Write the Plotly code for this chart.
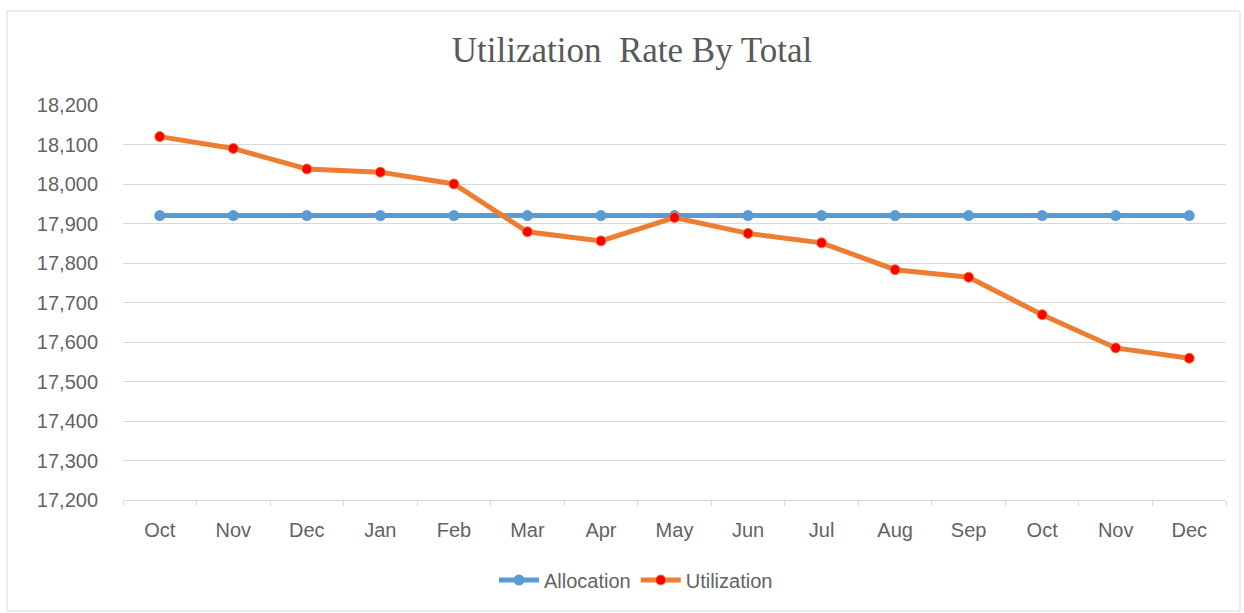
import plotly.graph_objects as go

months = ["Oct", "Nov", "Dec", "Jan", "Feb", "Mar", "Apr", "May", "Jun", "Jul", "Aug", "Sep", "Oct ", "Nov ", "Dec "]
month_labels = ["Oct", "Nov", "Dec", "Jan", "Feb", "Mar", "Apr", "May", "Jun", "Jul", "Aug", "Sep", "Oct", "Nov", "Dec"]
allocation = [17920] * 15
utilization = [18120, 18090, 18038, 18030, 18000, 17879, 17856, 17915, 17875, 17851, 17783, 17764, 17669, 17585, 17559]
y_ticks = list(range(17200, 18201, 100))

W, H = 1244, 613
L, R, T, B = 123, 18, 105, 113
pw, ph = W - L - R, H - T - B

def px_x(p):
    return (p - L) / pw

def px_y(p):
    return (H - B - p) / ph

fig = go.Figure()
fig.add_trace(go.Scatter(
    x=months, y=allocation, name="Allocation", mode="lines+markers",
    line=dict(color="#5B9BD5", width=5),
    marker=dict(color="#5B9BD5", size=11),
))
fig.add_trace(go.Scatter(
    x=months, y=utilization, name="Utilization", mode="lines+markers",
    line=dict(color="#ED7D31", width=5),
    marker=dict(color="#FF0000", size=10, line=dict(color="#ED7D31", width=1)),
))

font_family = "Liberation Sans, Arial, sans-serif"
text_color = "#636363"
fig.update_layout(
    width=W, height=H,
    margin=dict(l=L, r=R, t=T, b=B),
    paper_bgcolor="white", plot_bgcolor="white",
    title=dict(
        text="Utilization\u00a0 Rate By Total",
        font=dict(family="Liberation Serif, Times New Roman, serif", size=35, color="#595959"),
        x=632 / W, xanchor="center", xref="container",
        y=1 - 50 / H, yanchor="middle", yref="container",
    ),
    showlegend=True,
    legend=dict(
        orientation="h", x=px_x(636), xanchor="center", y=px_y(580), yanchor="middle",
        font=dict(family=font_family, size=20, color=text_color),
        itemwidth=40,
    ),
    font=dict(family=font_family, color=text_color),
    shapes=[dict(
        type="rect", xref="paper", yref="paper",
        x0=px_x(7), x1=px_x(1240), y0=px_y(611), y1=px_y(11),
        line=dict(color="#D9D9D9", width=1), fillcolor="rgba(0,0,0,0)", layer="below",
    )],
)
fig.update_xaxes(
    type="category", tickvals=months, ticktext=month_labels,
    tickson="boundaries", ticks="outside", ticklen=5, tickcolor="#D9D9D9",
    showline=True, linecolor="#D9D9D9", linewidth=1,
    showgrid=False, tickfont=dict(size=20, color=text_color), ticklabelstandoff=12,
    range=[-0.5, 14.5],
)
fig.update_yaxes(
    range=[17200, 18200], tickvals=y_ticks, tickformat=",d",
    showgrid=True, gridcolor="#D9D9D9", gridwidth=1,
    zeroline=False, showline=False, ticks="", ticklabelstandoff=24,
    tickfont=dict(size=20, color=text_color),
)
fig.write_html("out.html", config={"displayModeBar": False},
               post_script="document.body.style.margin='0';")
